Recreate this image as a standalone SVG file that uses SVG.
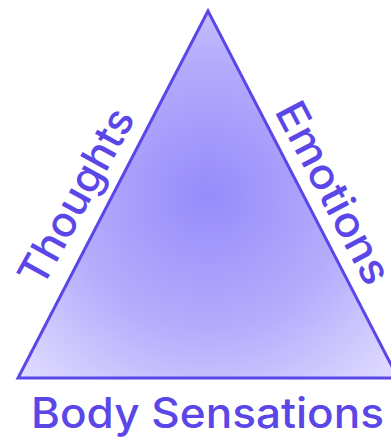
<svg xmlns="http://www.w3.org/2000/svg" width="391" height="441" viewBox="0 0 391 441">
  <style>
    .lbl { font-family: "Inter", "Lato", "Liberation Sans", sans-serif; font-size: 42px; font-weight: 500; fill: #5b47e8; }
    .tri { fill: url(#g); stroke: #5b47e8; stroke-width: 3; stroke-linejoin: miter; }
  </style>
  <defs>
    <radialGradient id="g" gradientUnits="userSpaceOnUse" cx="208" cy="195" r="270">
      <stop offset="0" stop-color="#978bfa"/>
      <stop offset="0.5" stop-color="#b5acfc"/>
      <stop offset="1" stop-color="#e4e0fe"/>
    </radialGradient>
  </defs>
  <g id="triangle">
    <polygon class="tri" points="208,11 18,378 398,378"/>
  </g>
  <g id="thoughts">
    <text class="lbl" transform="translate(42,289) rotate(-61.2)" x="0" y="0" textLength="195" lengthAdjust="spacingAndGlyphs">Thoughts</text>
  </g>
  <g id="emotions">
    <text class="lbl" transform="translate(274,111) rotate(62.3)" x="0" y="0" textLength="200" lengthAdjust="spacingAndGlyphs">Emotions</text>
  </g>
  <g id="body-sensations">
    <text class="lbl" x="31" y="428" textLength="353" lengthAdjust="spacingAndGlyphs">Body Sensations</text>
  </g>
  <g id="connectors"/>
</svg>
